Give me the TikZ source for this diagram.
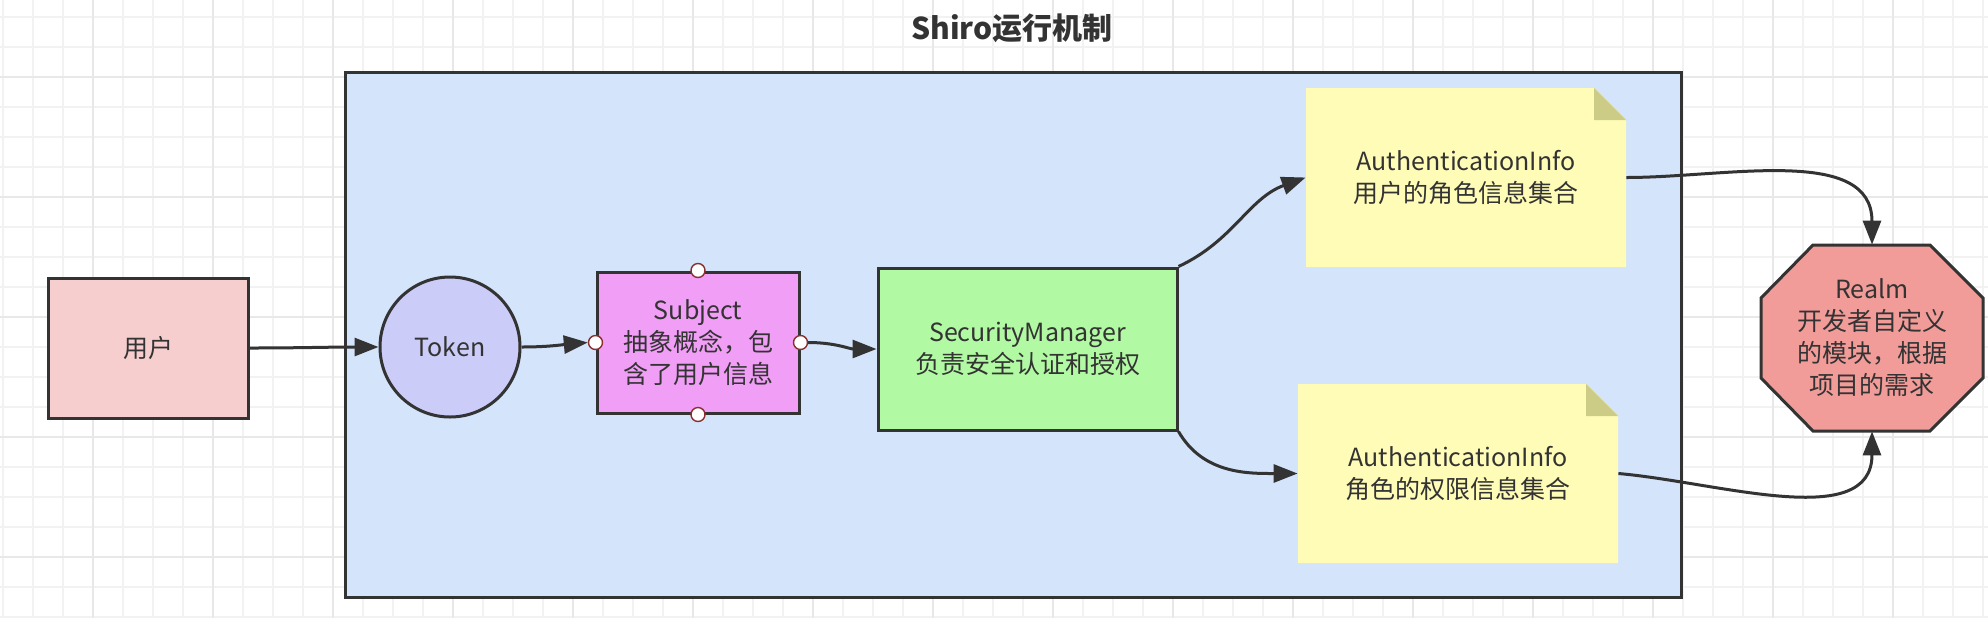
\documentclass[tikz,border=0pt]{standalone}
\usepackage{fontspec}
\setmainfont{Noto Sans CJK SC}
\usetikzlibrary{arrows.meta}
\definecolor{gridminor}{HTML}{F2F2F2}
\definecolor{gridmajor}{HTML}{E8E8E8}
\definecolor{ink}{HTML}{333333}
\definecolor{contfill}{HTML}{D4E4FA}
\definecolor{userfill}{HTML}{F6CECE}
\definecolor{tokenfill}{HTML}{CCCCF8}
\definecolor{subjfill}{HTML}{F19EF6}
\definecolor{smfill}{HTML}{B2F9A3}
\definecolor{notefill}{HTML}{FFFCB8}
\definecolor{notefold}{HTML}{CDCC87}
\definecolor{realmfill}{HTML}{F19C99}
\definecolor{portred}{HTML}{8B2E2E}
\begin{document}
\begin{tikzpicture}[x=0.5pt,y=-0.5pt,
  conn/.style={draw=ink, line width=1.5pt, -{Triangle[length=12pt,width=9pt]}},
  box/.style={draw=ink, line width=1.5pt, align=center, text=ink, inner sep=0pt,
    font=\fontsize{12.5}{16}\selectfont},
  plain/.style={align=center, text=ink, inner sep=0pt, font=\fontsize{12.5}{16}\selectfont},
  port/.style={circle, draw=portred, fill=white, line width=0.7pt, minimum size=7pt, inner sep=0pt},
  notebody/.style={fill=notefill},
  notecorner/.style={fill=notefold}]
\useasboundingbox (0,0) rectangle (1988,618);
\fill[white] (0,0) rectangle (1988,618);
% grid
\foreach \x in {3,33,...,1988} {\draw[gridminor, line width=0.9pt] (\x,0) -- (\x,618);}
\foreach \y in {17,47,...,618} {\draw[gridminor, line width=0.9pt] (0,\y) -- (1988,\y);}
\foreach \x in {93,213,...,1988} {\draw[gridmajor, line width=1pt] (\x,0) -- (\x,618);}
\foreach \y in {77,197,...,618} {\draw[gridmajor, line width=1pt] (0,\y) -- (1988,\y);}
% title
\node[text=ink, font=\fontsize{15}{18}\selectfont\bfseries] (title) at (1012,28) {Shiro运行机制};
% container
\node[draw=ink, fill=contfill, line width=1.5pt, minimum width=668pt, minimum height=262.5pt, inner sep=0pt] (container) at (1013,334.5) {};
% user
\node[box, fill=userfill, minimum width=100pt, minimum height=70pt] (user) at (148,348) {用户};
% token
\node[box, circle, fill=tokenfill, minimum size=70pt] (token) at (450,347) {Token};
% subject
\node[box, fill=subjfill, minimum width=101pt, minimum height=70.5pt] (subject) at (698,342.5) {Subject\\抽象概念，包\\含了用户信息};
\node[port] (pT) at (subject.north) {};
\node[port] (pB) at (subject.south) {};
\node[port] (pL) at (subject.west) {};
\node[port] (pR) at (subject.east) {};
% security manager
\node[box, fill=smfill, minimum width=149.5pt, minimum height=81pt] (sm) at (1027.5,349) {SecurityManager\\负责安全认证和授权};
% note 1
\path[notebody] (1306,88) -- (1594,88) -- (1626,120) -- (1626,267) -- (1306,267) -- cycle;
\path[notecorner] (1594,88) -- (1594,120) -- (1626,120) -- cycle;
\node[plain, minimum width=160pt, minimum height=89.5pt] (note1) at (1466,177.5) {AuthenticationInfo\\用户的角色信息集合};
% note 2
\path[notebody] (1298,384) -- (1586,384) -- (1618,416) -- (1618,563) -- (1298,563) -- cycle;
\path[notecorner] (1586,384) -- (1586,416) -- (1618,416) -- cycle;
\node[plain, minimum width=160pt, minimum height=89.5pt] (note2) at (1458,473.5) {AuthenticationInfo\\角色的权限信息集合};
% realm
\draw[ink, fill=realmfill, line width=1.5pt, line join=miter] (1813,245) -- (1930,245) -- (1983,298) -- (1983,378) -- (1930,431) -- (1813,431) -- (1761,378) -- (1761,298) -- cycle;
\node[plain, minimum width=111pt, minimum height=93pt] (realm) at (1872,338) {Realm\\开发者自定义\\的模块，根据\\项目的需求};
% connectors
\draw[conn] (user.east) to[out=0,in=180] (token.west);
\draw[conn] (token.east) to[out=0,in=185] (pL.west);
\draw[conn] (pR.east) to[out=0,in=180] (sm.west);
\draw[conn] (sm.north east) to[out=25,in=200] (note1.west);
\draw[conn] (sm.south east) to[out=-60,in=180] (note2.west);
\draw[conn] (note1.east) to[out=0,in=90] (realm.north);
\draw[conn] (note2.east) to[out=-5,in=-90] (realm.south);
\end{tikzpicture}
\end{document}
